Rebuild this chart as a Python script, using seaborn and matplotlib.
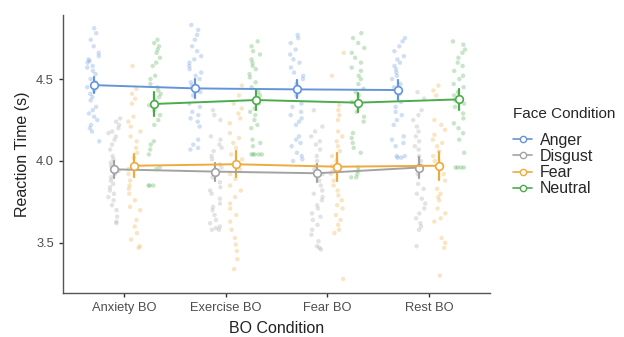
import numpy as np
import pandas as pd
import matplotlib
matplotlib.use('Agg')
import matplotlib.pyplot as plt
import seaborn as sns
from matplotlib.lines import Line2D

# Categories
bo_conditions = ['Anxiety BO', 'Exercise BO', 'Fear BO', 'Rest BO']
face_conditions = ['Anger', 'Disgust', 'Fear', 'Neutral']
face_colors = ['#6495d8', '#a3a3a3', '#eeaa3c', '#4cab4c']

# Individual reaction times (s), one list per BO condition
anger_rt = [
    [4.81, 4.78, 4.74, 4.70, 4.66, 4.64, 4.62, 4.61, 4.60, 4.58, 4.57, 4.55, 4.53, 4.50, 4.48,
     4.47, 4.45, 4.43, 4.41, 4.39, 4.37, 4.33, 4.31, 4.29, 4.27, 4.25, 4.22, 4.20, 4.18, 4.12],
    [4.83, 4.80, 4.77, 4.74, 4.70, 4.67, 4.64, 4.62, 4.60, 4.58, 4.56, 4.54, 4.52, 4.50, 4.48,
     4.46, 4.44, 4.42, 4.40, 4.35, 4.33, 4.30, 4.28, 4.26, 4.24, 4.21, 4.13, 4.10, 4.08, 4.07],
    [4.77, 4.75, 4.72, 4.68, 4.65, 4.62, 4.60, 4.57, 4.54, 4.52, 4.50, 4.47, 4.44, 4.42, 4.40,
     4.35, 4.33, 4.30, 4.28, 4.26, 4.24, 4.22, 4.15, 4.13, 4.11, 4.09, 4.05, 4.03, 4.01, 4.00],
    [4.75, 4.73, 4.70, 4.67, 4.64, 4.62, 4.60, 4.58, 4.56, 4.54, 4.52, 4.50, 4.47, 4.45, 4.43,
     4.41, 4.36, 4.33, 4.30, 4.28, 4.25, 4.22, 4.15, 4.13, 4.11, 4.09, 4.03, 4.03, 4.02, 4.02],
]
disgust_rt = [
    [4.26, 4.24, 4.22, 4.20, 4.18, 4.17, 4.15, 4.13, 4.10, 4.07, 4.03, 4.01, 3.99, 3.97, 3.96,
     3.94, 3.92, 3.90, 3.88, 3.86, 3.84, 3.82, 3.80, 3.78, 3.76, 3.73, 3.70, 3.66, 3.63, 3.62],
    [4.31, 4.28, 4.25, 4.15, 4.13, 4.10, 4.08, 4.06, 4.03, 4.01, 3.98, 3.96, 3.94, 3.92, 3.90,
     3.87, 3.84, 3.82, 3.80, 3.77, 3.74, 3.72, 3.70, 3.67, 3.64, 3.62, 3.60, 3.59, 3.58, 3.58],
    [4.31, 4.21, 4.18, 4.15, 4.12, 4.10, 4.07, 4.03, 4.00, 3.97, 3.95, 3.92, 3.88, 3.85, 3.82,
     3.80, 3.78, 3.76, 3.73, 3.71, 3.68, 3.66, 3.64, 3.61, 3.58, 3.55, 3.51, 3.48, 3.47, 3.46],
    [4.42, 4.38, 4.31, 4.28, 4.25, 4.21, 4.18, 4.15, 4.12, 4.09, 4.07, 4.03, 4.00, 3.97, 3.95,
     3.92, 3.86, 3.83, 3.80, 3.77, 3.74, 3.71, 3.68, 3.65, 3.62, 3.60, 3.58, 3.48],
]
fear_rt = [
    [4.58, 4.44, 4.41, 4.38, 4.35, 4.27, 4.24, 4.21, 4.18, 4.15, 4.12, 4.08, 4.05, 4.02, 3.98,
     3.95, 3.92, 3.88, 3.85, 3.83, 3.80, 3.76, 3.72, 3.70, 3.64, 3.60, 3.56, 3.52, 3.48, 3.47],
    [4.46, 4.40, 4.35, 4.32, 4.29, 4.26, 4.23, 4.17, 4.14, 4.11, 4.08, 4.04, 4.01, 3.98, 3.95,
     3.92, 3.89, 3.85, 3.82, 3.78, 3.74, 3.71, 3.67, 3.63, 3.58, 3.53, 3.49, 3.45, 3.40, 3.34],
    [4.66, 4.52, 4.34, 4.31, 4.28, 4.25, 4.18, 4.15, 4.12, 4.09, 4.06, 4.03, 4.00, 3.97, 3.94,
     3.92, 3.88, 3.85, 3.82, 3.79, 3.76, 3.73, 3.71, 3.67, 3.64, 3.61, 3.58, 3.56, 3.28],
    [4.46, 4.43, 4.40, 4.25, 4.22, 4.19, 4.16, 4.13, 4.11, 4.09, 4.06, 4.03, 4.00, 3.98, 3.95,
     3.92, 3.88, 3.83, 3.80, 3.78, 3.76, 3.71, 3.68, 3.65, 3.63, 3.53, 3.50, 3.47, 3.30],
]
neutral_rt = [
    [4.74, 4.72, 4.70, 4.68, 4.66, 4.63, 4.60, 4.58, 4.52, 4.50, 4.47, 4.45, 4.43, 4.41, 4.39,
     4.37, 4.34, 4.31, 4.28, 4.25, 4.22, 4.12, 4.10, 4.07, 4.04, 3.96, 3.95, 3.85, 3.85, 3.85],
    [4.73, 4.70, 4.67, 4.65, 4.62, 4.60, 4.58, 4.56, 4.53, 4.51, 4.48, 4.45, 4.42, 4.40, 4.38,
     4.35, 4.32, 4.30, 4.28, 4.25, 4.22, 4.20, 4.13, 4.11, 4.09, 4.04, 4.04, 4.04, 4.04, 4.04],
    [4.78, 4.75, 4.72, 4.69, 4.66, 4.63, 4.60, 4.57, 4.55, 4.52, 4.50, 4.47, 4.44, 4.42, 4.40,
     4.36, 4.33, 4.30, 4.27, 4.24, 4.17, 4.14, 4.11, 4.08, 4.05, 3.96, 3.94, 3.92, 3.90, 3.90],
    [4.73, 4.71, 4.68, 4.66, 4.63, 4.60, 4.58, 4.55, 4.52, 4.50, 4.47, 4.45, 4.42, 4.40, 4.37,
     4.35, 4.33, 4.29, 4.26, 4.23, 4.20, 4.17, 4.13, 4.05, 3.96, 3.96, 3.96, 3.96],
]

# Condition means and error bar half-widths (s)
anger_mean = [4.463, 4.443, 4.437, 4.433]
disgust_mean = [3.949, 3.935, 3.925, 3.960]
fear_mean = [3.971, 3.980, 3.965, 3.971]
neutral_mean = [4.348, 4.372, 4.356, 4.376]
anger_err = [0.050, 0.060, 0.055, 0.060]
disgust_err = [0.050, 0.055, 0.055, 0.065]
fear_err = [0.070, 0.080, 0.085, 0.085]
neutral_err = [0.075, 0.060, 0.060, 0.065]

# Long tables for seaborn
raw_rows = []
for face, groups in zip(face_conditions, [anger_rt, disgust_rt, fear_rt, neutral_rt]):
    for bo, vals in zip(bo_conditions, groups):
        for v in vals:
            raw_rows.append({'BO': bo, 'Face': face, 'RT': v})
raw_df = pd.DataFrame(raw_rows)

# two rows per cell (mean -/+ err) so the mean and the min-max interval give the error bar
summary_rows = []
for face, means, errs in zip(face_conditions,
                             [anger_mean, disgust_mean, fear_mean, neutral_mean],
                             [anger_err, disgust_err, fear_err, neutral_err]):
    for bo, m, e in zip(bo_conditions, means, errs):
        summary_rows.append({'BO': bo, 'Face': face, 'RT': m - e})
        summary_rows.append({'BO': bo, 'Face': face, 'RT': m + e})
summary_df = pd.DataFrame(summary_rows)

sns.set_style('white')
plt.rcParams['font.family'] = ['Liberation Sans', 'DejaVu Sans']

fig = plt.figure(figsize=(6.24, 3.37), dpi=100)
ax = fig.add_axes([0.101, 0.131, 0.684, 0.824])

np.random.seed(3)
palette = dict(zip(face_conditions, face_colors))
sns.stripplot(data=raw_df, x='BO', y='RT', hue='Face', order=bo_conditions,
              hue_order=face_conditions, palette=palette, dodge=True, jitter=0.26,
              size=3.2, alpha=0.3, linewidth=0, legend=False, ax=ax)
sns.pointplot(data=summary_df, x='BO', y='RT', hue='Face', order=bo_conditions,
              hue_order=face_conditions, palette=palette, dodge=0.6,
              errorbar=('pi', 100), markers='o', markersize=5.5, linewidth=1.4,
              markerfacecolor='white', markeredgewidth=1.2,
              err_kws={'linewidth': 1.6}, legend=False, ax=ax)

# keep the white mean markers above the error bars
for ln in ax.lines:
    if ln.get_marker() not in (None, 'None', ''):
        ln.set_zorder(5)

ax.set_ylim(3.195, 4.89)
ax.set_xlim(-0.6, 3.6)
ax.set_yticks([3.5, 4.0, 4.5])
ax.set_yticklabels(['3.5', '4.0', '4.5'])
ax.set_xlabel('BO Condition', fontsize=11.5, color='#222222', labelpad=5)
ax.set_ylabel('Reaction Time (s)', fontsize=11.5, color='#222222')
ax.tick_params(axis='both', labelsize=9.3, labelcolor='#4d4d4d', length=3,
               width=1, color='#333333', left=True, bottom=True)
sns.despine(ax=ax)
for side in ['left', 'bottom']:
    ax.spines[side].set_color('#555555')
    ax.spines[side].set_linewidth(1.0)

handles = [Line2D([0], [0], color=c, marker='o', markersize=4.5, markerfacecolor='white',
                  markeredgewidth=1.0, linewidth=1.2) for c in face_colors]
leg = fig.legend(handles, face_conditions, title='Face Condition', loc='upper left',
                 bbox_to_anchor=(0.812, 0.70), frameon=False, fontsize=11.5,
                 title_fontsize=11, handlelength=1.2, handletextpad=0.5,
                 labelspacing=0.08, borderaxespad=0)
leg._legend_box.align = 'left'
leg._legend_box.sep = 8

fig.savefig('out.png', dpi=100)
